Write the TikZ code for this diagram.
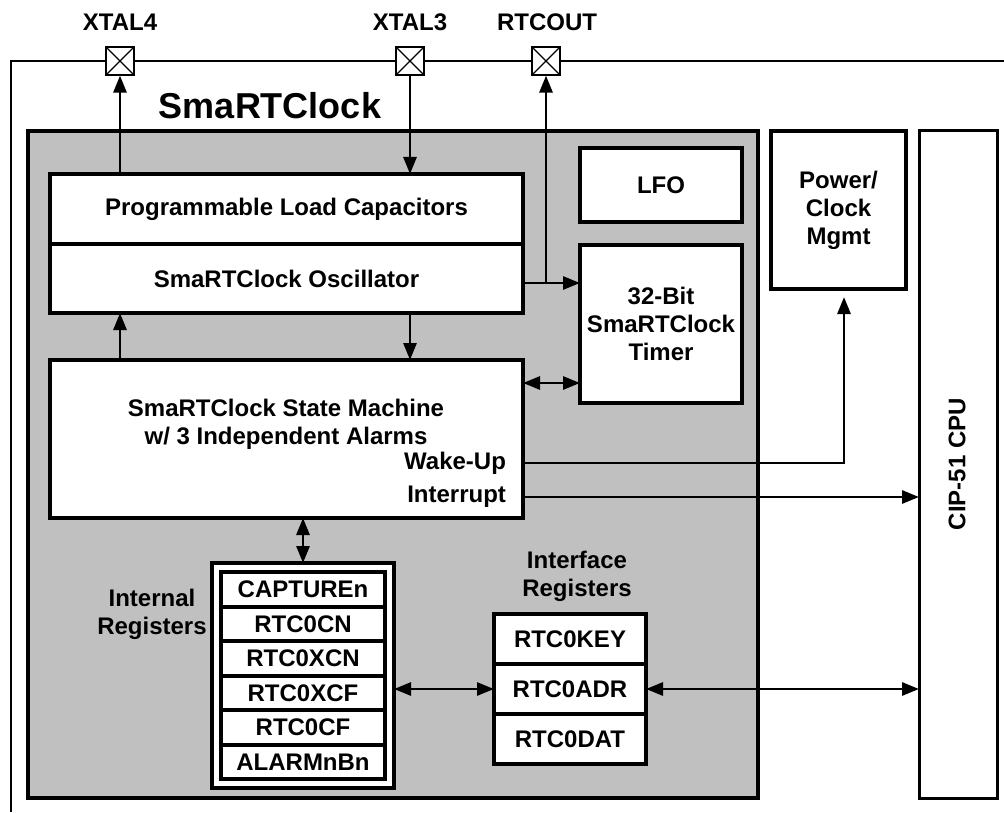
\documentclass[tikz,border=0pt]{standalone}
\usepackage{fontspec}
\setmainfont{Liberation Sans}
\usepackage{tikz}
\usetikzlibrary{arrows.meta, positioning, calc}
\definecolor{rtcgray}{RGB}{192,192,192}

\begin{document}
\begin{tikzpicture}[
        x=0.5pt, y=-0.5pt,
        font=\fontsize{12}{14}\selectfont\bfseries,
        every node/.append style={align=center},
        block/.style={rectangle, draw, line width=2pt, fill=white, align=center, inner sep=0pt, outer sep=0pt},
        regbox/.style={block, minimum width=82pt, minimum height=17.25pt},
        ifbox/.style={block, minimum width=76pt, minimum height=25pt},
        pad/.style={rectangle, draw, line width=0.6pt, fill=white, minimum size=14pt, inner sep=0pt,
            path picture={\draw[line width=0.6pt] (path picture bounding box.south west) -- (path picture bounding box.north east)
                (path picture bounding box.north west) -- (path picture bounding box.south east);}},
        arrow/.style={line width=1.4pt, -{Triangle[length=8.5pt,width=6.5pt]}},
        dblarrow/.style={line width=1.4pt, {Triangle[length=8.5pt,width=6.5pt]}-{Triangle[length=8.5pt,width=6.5pt]}}
    ]
    \useasboundingbox (0,0) rectangle (1004,812);

    % chip outline
    \draw[line width=1pt] (11,812) -- (11,61) -- (1004,61);

    \node[block, fill=rtcgray, minimum width=365pt, minimum height=333.5pt] (rtc) at (393,464.5) {};
    \node[font=\fontsize{18}{20}\selectfont\bfseries] (title) at (270,106) {SmaRTClock};

    % pins
    \node[pad] (xtal4) at (120,61) {};
    \node[pad] (xtal3) at (410,61) {};
    \node[pad] (rtcout) at (546,61) {};
    \node (xtal4lbl) at (120,22) {XTAL4};
    \node (xtal3lbl) at (410,22) {XTAL3};
    \node (rtcoutlbl) at (547,22) {RTCOUT};

    % oscillator and timer
    \node[block, minimum width=236.5pt, minimum height=35pt] (caps) at (286.5,209) {Programmable Load Capacitors};
    \node[block, minimum width=236.5pt, minimum height=34.5pt, below=0pt of caps] (osc) {SmaRTClock Oscillator};
    \node[block, minimum width=81pt, minimum height=37pt] (lfo) at (661,185) {LFO};
    \node[block, minimum width=81pt, minimum height=79pt] (timer) at (661,324) {32-Bit\\SmaRTClock\\Timer};

    % state machine
    \node[block, minimum width=236.5pt, minimum height=79pt] (sm) at (286.5,439) {};
    \node (smtext) at (286,424) {SmaRTClock State Machine\\w/ 3 Independent Alarms};
    \node[anchor=east] (wake) at (513,463) {Wake-Up};
    \node[anchor=east] (intr) at (513,497) {Interrupt};

    \node[block, minimum width=67.5pt, minimum height=79pt] (pmu) at (838.5,210) {Power/\\Clock\\Mgmt};
    \node[block, line width=1.5pt, minimum width=39pt, minimum height=333.5pt] (cpu) at (958,464.5) {};
    \node[rotate=90] (cputext) at (957,464) {CIP-51 CPU};

    % internal registers
    \node[block, minimum width=91pt, minimum height=112.5pt] (intregs) at (303,675.5) {};
    \node[regbox] (capture) at (303,589.25) {CAPTUREn};
    \node[regbox, below=0pt of capture] (rtc0cn) {RTC0CN};
    \node[regbox, below=0pt of rtc0cn] (rtc0xcn) {RTC0XCN};
    \node[regbox, below=0pt of rtc0xcn] (rtc0xcf) {RTC0XCF};
    \node[regbox, below=0pt of rtc0xcf] (rtc0cf) {RTC0CF};
    \node[regbox, below=0pt of rtc0cf] (alarm) {ALARMnBn};
    \node (intlbl) at (152,614) {Internal\\Registers};

    % interface registers
    \node[ifbox] (rtc0key) at (570,639) {RTC0KEY};
    \node[ifbox, below=0pt of rtc0key] (rtc0adr) {RTC0ADR};
    \node[ifbox, below=0pt of rtc0adr] (rtc0dat) {RTC0DAT};
    \node (iflbl) at (577,576) {Interface\\Registers};

    \coordinate (tap) at ([yshift=-2.25pt]osc.east);

    \draw[arrow] (caps.north -| xtal4) -- (xtal4.south);
    \draw[arrow] (xtal3.south) -- (xtal3.south |- caps.north);
    \draw[arrow] (tap) -- (tap -| timer.west);
    \draw[arrow] (tap -| rtcout) -- (rtcout.south);
    \draw[arrow] (sm.north -| xtal4) -- (osc.south -| xtal4);
    \draw[arrow] (osc.south -| xtal3) -- (sm.north -| xtal3);
    \draw[dblarrow] ([yshift=-29.5pt]timer.west) -- ([yshift=-29.5pt]timer.west -| sm.east);
    \draw[arrow, shorten >=4pt] (sm.east |- wake) -| ([xshift=2.75pt]pmu.south);
    \draw[arrow] (sm.east |- intr) -- (cpu.west |- intr);
    \draw[dblarrow] (sm.south -| intregs.north) -- (intregs.north);
    \draw[dblarrow] (intregs.east |- rtc0adr) -- (rtc0adr.west);
    \draw[dblarrow] (rtc0adr.east) -- (cpu.west |- rtc0adr);
\end{tikzpicture}
\end{document}
